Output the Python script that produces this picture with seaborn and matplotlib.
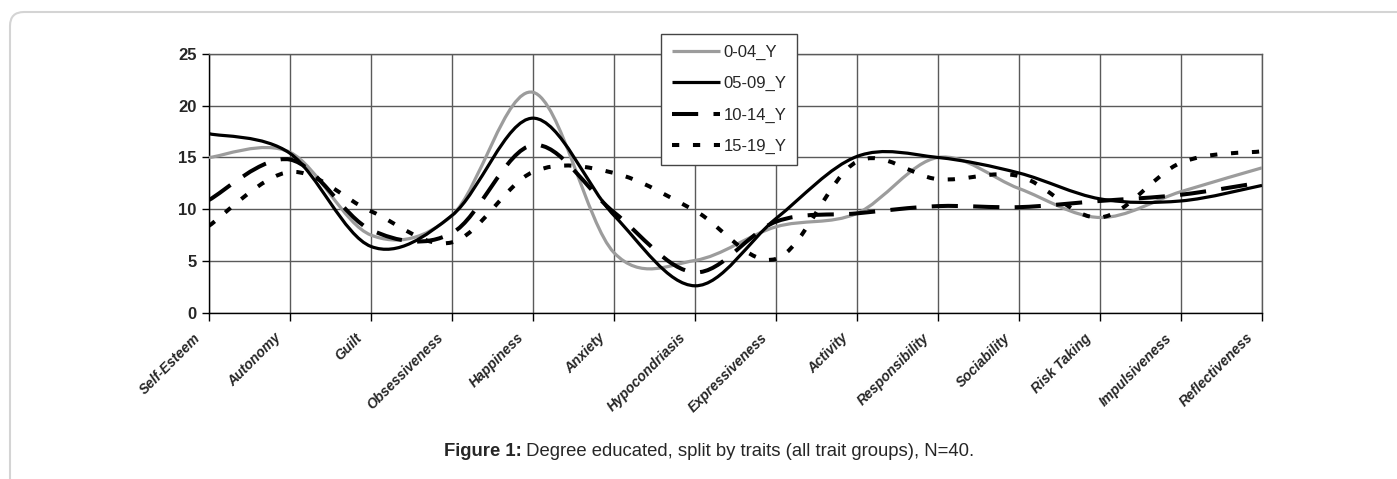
import numpy as np
import seaborn as sns
import matplotlib.pyplot as plt
from matplotlib.path import Path
from matplotlib.patches import PathPatch, FancyBboxPatch
from matplotlib.lines import Line2D
from matplotlib.transforms import IdentityTransform, ScaledTranslation
from matplotlib import font_manager

# values, one per trait
traits = ['Self-Esteem', 'Autonomy', 'Guilt', 'Obsessiveness', 'Happiness', 'Anxiety',
          'Hypocondriasis', 'Expressiveness', 'Activity', 'Responsibility', 'Sociability',
          'Risk Taking', 'Impulsiveness', 'Reflectiveness']
y_0_04 = [15.0, 15.5, 7.5, 9.4, 21.3, 5.8, 5.05, 8.3, 9.6, 15.0, 12.0, 9.2, 11.7, 14.0]
y_05_09 = [17.3, 15.4, 6.4, 9.4, 18.8, 9.4, 2.6, 9.1, 15.1, 15.0, 13.5, 11.0, 10.8, 12.3]
y_10_14 = [10.9, 14.8, 8.0, 7.7, 16.2, 9.7, 3.9, 8.8, 9.6, 10.3, 10.2, 10.8, 11.4, 12.6]
y_15_19 = [8.4, 13.6, 9.8, 6.8, 13.6, 13.5, 9.85, 5.2, 14.6, 12.9, 13.2, 9.2, 14.5, 15.6]
groups = ['0-04_Y', '05-09_Y', '10-14_Y', '15-19_Y']
yticks = [0, 5, 10, 15, 20, 25]
caption_bold = 'Figure 1:'
caption_rest = ' Degree educated, split by traits (all trait groups), N=40.'

sns.set_theme(style='whitegrid')
names = {f.name for f in font_manager.fontManager.ttflist}
base = 'Liberation Sans' if 'Liberation Sans' in names else 'DejaVu Sans'
narrow = 'Liberation Sans Narrow' if 'Liberation Sans Narrow' in names else base
plt.rcParams['font.family'] = [base, 'DejaVu Sans']

styles = {
    '0-04_Y': dict(color='#9c9c9c', lw=2.3, ls='-'),
    '05-09_Y': dict(color='black', lw=2.3, ls='-'),
    '10-14_Y': dict(color='black', lw=2.9, ls=(0, (6.5, 3.8))),
    '15-19_Y': dict(color='black', lw=2.9, ls=(0, (1.8, 3.4))),
}


def smooth_path(values):
    # Excel-style smoothed line: cubic bezier through every point
    x = np.arange(len(values), dtype=float)
    y = np.asarray(values, dtype=float)
    xp = np.concatenate([[x[0]], x, [x[-1]]])
    yp = np.concatenate([[y[0]], y, [y[-1]]])
    verts = [(x[0], y[0])]
    codes = [Path.MOVETO]
    for i in range(len(x) - 1):
        c1 = (x[i] + (xp[i + 2] - xp[i]) / 6, y[i] + (yp[i + 2] - yp[i]) / 6)
        c2 = (x[i + 1] - (xp[i + 3] - xp[i + 1]) / 6, y[i + 1] - (yp[i + 3] - yp[i + 1]) / 6)
        verts += [c1, c2, (x[i + 1], y[i + 1])]
        codes += [Path.CURVE4] * 3
    return Path(verts, codes)


W, H = 1397, 479
fig = plt.figure(figsize=(W / 100, H / 100), dpi=100)
fig.patch.set_facecolor('white')
ax = fig.add_axes([209 / W, 1 - 312.7 / H, (1262 - 209) / W, (312.7 - 54) / H])
ax.set_facecolor('white')

for g, vals in zip(groups, [y_0_04, y_05_09, y_10_14, y_15_19]):
    st = styles[g]
    ax.add_patch(PathPatch(smooth_path(vals), fill=False, edgecolor=st['color'],
                           lw=st['lw'], ls=st['ls'], capstyle='butt', joinstyle='round',
                           zorder=3))

ax.set_xlim(0, len(traits) - 1)
ax.set_ylim(0, 25)
ax.set_xticks(range(len(traits)))
ax.set_xticklabels(traits, rotation=45, ha='right', va='top',
                   fontsize=10, fontweight='bold', fontstyle='italic')
ax.set_yticks(yticks)
ax.set_yticklabels([str(t) for t in yticks], fontsize=12, fontweight='bold', family=narrow)
ax.grid(True, color='#5a5a5a', lw=1)
ax.set_axisbelow(True)
for s in ['top', 'right']:
    ax.spines[s].set_color('#5a5a5a')
    ax.spines[s].set_linewidth(1)
for s in ['left', 'bottom']:
    ax.spines[s].set_color('black')
    ax.spines[s].set_linewidth(1)
ax.tick_params(axis='y', left=True, direction='out', length=5, width=1, color='black', pad=4)
ax.tick_params(axis='x', bottom=True, direction='out', length=6, width=1, color='black', pad=7)
shift = ScaledTranslation(-6 / 100, 0, fig.dpi_scale_trans)
for lbl in ax.get_xticklabels():
    lbl.set_transform(lbl.get_transform() + shift)

handles = [Line2D([], [], color=styles[g]['color'], lw=styles[g]['lw'], ls=styles[g]['ls'],
                  solid_capstyle='butt', dash_capstyle='butt') for g in groups]
leg = fig.legend(handles, groups, loc='upper left', bbox_to_anchor=(661 / W, 1 - 34 / H),
                 frameon=True, fancybox=False, framealpha=1, edgecolor='#444444',
                 borderpad=0.65, labelspacing=0.98, handlelength=2.9, handletextpad=0.2,
                 borderaxespad=0, prop={'family': narrow, 'size': 12})
leg.get_frame().set_linewidth(1)

# light rounded panel border
fig.add_artist(FancyBboxPatch((10, -30), W + 40, H - 12 + 30,
                              boxstyle='round,pad=0,rounding_size=14',
                              transform=IdentityTransform(), fc='none',
                              ec='#d4d4d4', lw=1.5))

cy = 1 - 452 / H
t1 = fig.text(0, cy, caption_bold, fontsize=13.3, fontweight='bold', va='center')
t2 = fig.text(0, cy, caption_rest, fontsize=13.3, va='center')
fig.canvas.draw()
r = fig.canvas.get_renderer()
w1 = t1.get_window_extent(r).width
w2 = t2.get_window_extent(r).width
x0 = 709 - (w1 + w2) / 2
t1.set_x(x0 / W)
t2.set_x((x0 + w1) / W)

fig.savefig('out.png', dpi=100, facecolor='white')
